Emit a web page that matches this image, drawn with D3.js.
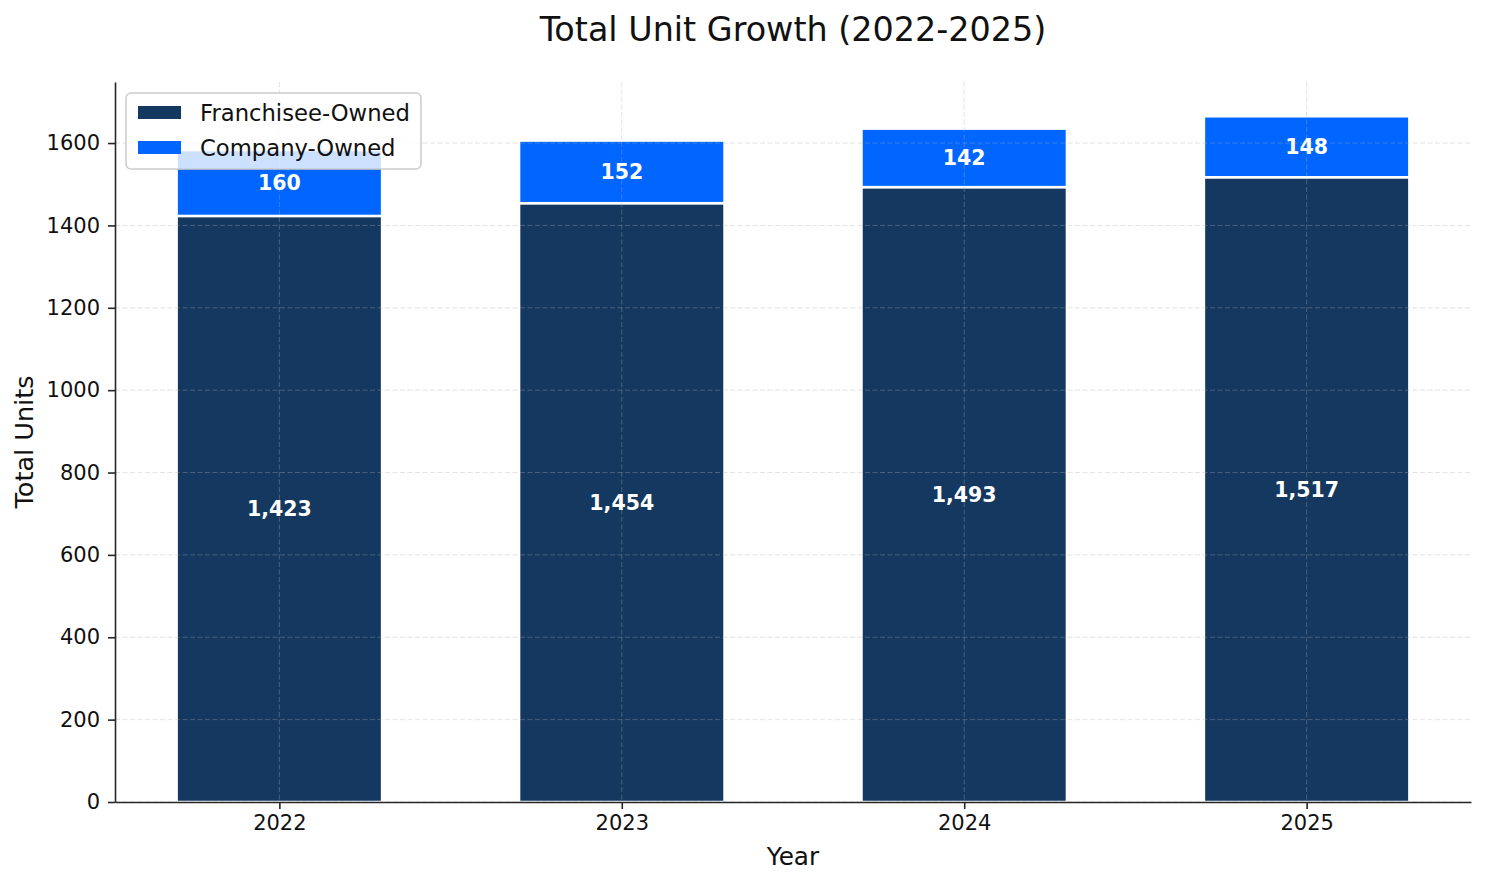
<!DOCTYPE html>
<html>
<head>
<meta charset="utf-8">
<script src="https://cdn.jsdelivr.net/npm/d3@7"></script>
<style>
  body { margin: 0; background: #fff; }
  svg { font-family: "DejaVu Sans", sans-serif; }
</style>
</head>
<body>
<div id="chart-area"></div>
<script>
// Data
var years = ["2022", "2023", "2024", "2025"];
var franchiseeOwned = [1423, 1454, 1493, 1517];
var companyOwned = [160, 152, 142, 148];
var yTicks = [0, 200, 400, 600, 800, 1000, 1200, 1400, 1600];
var seriesNames = ["Franchisee-Owned", "Company-Owned"];
var seriesColors = ["#143860", "#0066ff"];

var width = 1485,
	height = 884;

var margin = {top: 82, right: 14, bottom: 82, left: 115};
var plotW = width - margin.left - margin.right;
var plotH = height - margin.top - margin.bottom;

var svg = d3.select("#chart-area").append("svg")
	.attr("width", width)
	.attr("height", height);

var g = svg.append("g")
	.attr("transform", "translate(" + margin.left + "," + margin.top + ")");

// matplotlib style x scale: bars 0.6 wide, 5% margins
var barW = 0.6;
var xScale = d3.scaleLinear()
	.domain([-0.48, years.length - 1 + 0.48])
	.range([0, plotW]);

var totals = years.map((d, i) => franchiseeOwned[i] + companyOwned[i]);
var yScale = d3.scaleLinear()
	.domain([0, d3.max(totals) * 1.05])
	.range([plotH, 0]);

var rows = years.map((y, i) => ({
	year: y, i: i,
	f: franchiseeOwned[i], c: companyOwned[i]
}));

// franchisee bars
g.selectAll(".bar-f")
	.data(rows)
	.enter()
	.append("rect")
	.attr("class", "bar-f")
	.attr("x", d => xScale(d.i - barW / 2))
	.attr("width", d => xScale(barW) - xScale(0))
	.attr("y", d => yScale(d.f))
	.attr("height", d => yScale(0) - yScale(d.f))
	.attr("fill", seriesColors[0])
	.attr("stroke", "white")
	.attr("stroke-width", 2.5);

// company bars stacked on top
g.selectAll(".bar-c")
	.data(rows)
	.enter()
	.append("rect")
	.attr("class", "bar-c")
	.attr("x", d => xScale(d.i - barW / 2))
	.attr("width", d => xScale(barW) - xScale(0))
	.attr("y", d => yScale(d.f + d.c))
	.attr("height", d => yScale(d.f) - yScale(d.f + d.c))
	.attr("fill", seriesColors[1])
	.attr("stroke", "white")
	.attr("stroke-width", 2.5);

// grid (drawn over the bars, like the original)
var grid = g.append("g").attr("class", "grid");
grid.selectAll(".hgrid")
	.data(yTicks)
	.enter()
	.append("line")
	.attr("x1", 0).attr("x2", plotW)
	.attr("y1", d => yScale(d)).attr("y2", d => yScale(d))
	.attr("stroke", "#b0b0b0")
	.attr("stroke-opacity", 0.35)
	.attr("stroke-width", 1)
	.attr("stroke-dasharray", "5,2.5");
grid.selectAll(".vgrid")
	.data(rows)
	.enter()
	.append("line")
	.attr("x1", d => xScale(d.i)).attr("x2", d => xScale(d.i))
	.attr("y1", 0).attr("y2", plotH)
	.attr("stroke", "#b0b0b0")
	.attr("stroke-opacity", 0.35)
	.attr("stroke-width", 1)
	.attr("stroke-dasharray", "5,2.5");

// value labels
g.selectAll(".lab-f")
	.data(rows)
	.enter()
	.append("text")
	.attr("x", d => xScale(d.i))
	.attr("y", d => yScale(d.f / 2))
	.attr("dy", "0.36em")
	.attr("text-anchor", "middle")
	.attr("fill", "white")
	.attr("font-weight", "bold")
	.attr("font-size", "20.5px")
	.text(d => d3.format(",")(d.f));

g.selectAll(".lab-c")
	.data(rows)
	.enter()
	.append("text")
	.attr("x", d => xScale(d.i))
	.attr("y", d => yScale(d.f + d.c / 2))
	.attr("dy", "0.36em")
	.attr("text-anchor", "middle")
	.attr("fill", "white")
	.attr("font-weight", "bold")
	.attr("font-size", "20.5px")
	.text(d => d3.format(",")(d.c));

// axes
var xAxis = d3.axisBottom(xScale)
	.tickValues(rows.map(d => d.i))
	.tickFormat(i => years[i])
	.tickSizeInner(7)
	.tickSizeOuter(0)
	.tickPadding(6);

var yAxis = d3.axisLeft(yScale)
	.tickValues(yTicks)
	.tickFormat(d3.format("d"))
	.tickSizeInner(7)
	.tickSizeOuter(0)
	.tickPadding(8);

var xAxisGroup = g.append("g")
	.attr("class", "x-axis axis")
	.attr("transform", "translate(0," + plotH + ")")
	.call(xAxis);

var yAxisGroup = g.append("g")
	.attr("class", "y-axis axis")
	.call(yAxis);

svg.selectAll(".axis path, .axis line")
	.attr("stroke", "#262626")
	.attr("stroke-width", 1.6);
svg.selectAll(".axis text")
	.attr("font-family", "DejaVu Sans")
	.attr("font-size", "21px")
	.attr("fill", "#111");

// axis labels and title
svg.append("text")
	.attr("x", margin.left + plotW / 2)
	.attr("y", 865)
	.attr("text-anchor", "middle")
	.attr("font-size", "24.7px")
	.attr("fill", "#111")
	.text("Year");

svg.append("text")
	.attr("transform", "translate(33," + (margin.top + plotH / 2) + ") rotate(-90)")
	.attr("text-anchor", "middle")
	.attr("font-size", "25.5px")
	.attr("fill", "#111")
	.text("Total Units");

svg.append("text")
	.attr("x", margin.left + plotW / 2)
	.attr("y", 41)
	.attr("text-anchor", "middle")
	.attr("font-size", "33.4px")
	.attr("fill", "#111")
	.text("Total Unit Growth (2022-2025)");

// legend
var legend = svg.append("g").attr("class", "legend");
legend.append("rect")
	.attr("x", 126).attr("y", 93)
	.attr("width", 295).attr("height", 76)
	.attr("rx", 5)
	.attr("fill", "white")
	.attr("fill-opacity", 0.8)
	.attr("stroke", "#cccccc")
	.attr("stroke-width", 1.5);

var items = legend.selectAll(".item")
	.data(seriesNames)
	.enter()
	.append("g")
	.attr("transform", (d, i) => "translate(138," + (106 + i * 35) + ")");
items.append("rect")
	.attr("width", 43).attr("height", 13)
	.attr("fill", (d, i) => seriesColors[i]);
items.append("text")
	.attr("x", 62)
	.attr("y", 6.5)
	.attr("dy", "0.36em")
	.attr("font-size", "22.7px")
	.attr("fill", "#111")
	.text(d => d);
</script>
</body>
</html>
